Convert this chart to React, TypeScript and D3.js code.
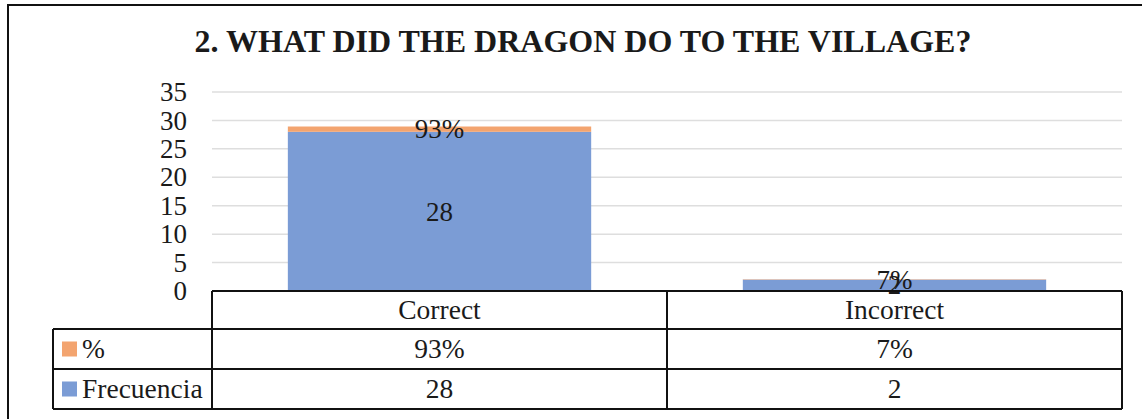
import React from "react";
import * as d3 from "d3";

const categories = ["Correct", "Incorrect"];
const frecuencia = [28, 2];
const porcentaje = [0.93, 0.07];
const pctLabels = ["93%", "7%"];
const yTicks = [0, 5, 10, 15, 20, 25, 30, 35];
const seriesNames = ["%", "Frecuencia"];
const title = "2. WHAT DID THE DRAGON DO TO THE VILLAGE?";

const W = 1142;
const H = 419;
const FONT = "Liberation Serif";
const BLUE = "#7b9cd5";
const ORANGE = "#f3a46f";

export default function App() {
  const plotLeft = 212;
  const plotRight = 1122;
  const y0 = 291;
  const y35 = 92;
  const x = d3.scaleBand<string>().domain(categories).range([plotLeft, plotRight]).paddingInner(0.3333).paddingOuter(0.1667);
  const y = d3.scaleLinear().domain([0, 35]).range([y0, y35]);

  const stackData = categories.map((c, i) => ({ cat: c, f: frecuencia[i], p: porcentaje[i] }));
  const stack = d3.stack<any>().keys(["f", "p"])(stackData);

  const rowTop = [291, 329, 369, 409];
  const tableLeft = 53;
  const band = (plotRight - plotLeft) / categories.length;
  const colEdges = categories.map((_, i) => plotLeft + i * band).concat([plotRight]);

  const txt = (size: number, bold = false) => ({ fontFamily: FONT, fontSize: size, fontWeight: bold ? "bold" : "normal" } as React.CSSProperties);

  return (
    <svg width={W} height={H} style={{ position: "absolute", left: 0, top: 0, background: "#fff" }}>
      <rect x={0} y={0} width={W} height={H} fill="#fff" />
      <path d={`M8,${H + 5} L8,5 L${W + 5},5`} fill="none" stroke="#111" strokeWidth={2} />
      <text x={583} y={52} textAnchor="middle" style={txt(32, true)} fill="#1a1a1a">{title}</text>
      {yTicks.filter((t) => t > 0).map((t) => (
        <line key={t} x1={plotLeft} x2={plotRight} y1={y(t)} y2={y(t)} stroke="#dedede" strokeWidth={1.5} />
      ))}
      {yTicks.map((t) => (
        <text key={t} x={187} y={y(t)} dy="0.34em" textAnchor="end" style={txt(27)} fill="#1a1a1a">{t}</text>
      ))}
      {stack.map((s, si) => (
        <g key={si} fill={si === 0 ? BLUE : ORANGE}>
          {s.map((d: any, i: number) => (
            <rect key={i} x={x(categories[i])} width={x.bandwidth()} y={y(d[1])} height={Math.max(0, y(d[0]) - y(d[1]))} />
          ))}
        </g>
      ))}
      {stack[0].map((d: any, i: number) => (
        <text key={"f" + i} x={(x(categories[i]) as number) + x.bandwidth() / 2} y={(y(d[0]) + y(d[1])) / 2} dy="0.34em" textAnchor="middle" style={txt(27)} fill="#1a1a1a">{frecuencia[i]}</text>
      ))}
      {stack[1].map((d: any, i: number) => (
        <text key={"p" + i} x={(x(categories[i]) as number) + x.bandwidth() / 2} y={(y(d[0]) + y(d[1])) / 2} dy="0.34em" textAnchor="middle" style={txt(27)} fill="#1a1a1a">{pctLabels[i]}</text>
      ))}
      <g stroke="#111" strokeWidth={2} fill="none">
        <line x1={plotLeft} x2={plotRight} y1={rowTop[0]} y2={rowTop[0]} />
        <line x1={tableLeft} x2={plotRight} y1={rowTop[1]} y2={rowTop[1]} />
        <line x1={tableLeft} x2={plotRight} y1={rowTop[2]} y2={rowTop[2]} />
        <line x1={tableLeft} x2={plotRight} y1={rowTop[3]} y2={rowTop[3]} />
        <line x1={tableLeft} x2={tableLeft} y1={rowTop[1]} y2={rowTop[3]} />
        {colEdges.map((cx, i) => (
          <line key={i} x1={cx} x2={cx} y1={rowTop[0]} y2={rowTop[3]} />
        ))}
      </g>
      {categories.map((c, i) => (
        <g key={c} fill="#1a1a1a" textAnchor="middle">
          <text x={colEdges[i] + band / 2} y={(rowTop[0] + rowTop[1]) / 2} dy="0.34em" style={txt(27.5)}>{c}</text>
          <text x={colEdges[i] + band / 2} y={(rowTop[1] + rowTop[2]) / 2} dy="0.34em" style={txt(27.5)}>{pctLabels[i]}</text>
          <text x={colEdges[i] + band / 2} y={(rowTop[2] + rowTop[3]) / 2} dy="0.34em" style={txt(27.5)}>{frecuencia[i]}</text>
        </g>
      ))}
      {seriesNames.map((n, i) => {
        const cy = (rowTop[i + 1] + rowTop[i + 2]) / 2;
        return (
          <g key={n}>
            <rect x={62} y={cy - 7.5} width={15} height={15} fill={i === 0 ? ORANGE : BLUE} />
            <text x={82} y={cy} dy="0.34em" style={txt(27.5)} fill="#1a1a1a">{n}</text>
          </g>
        );
      })}
    </svg>
  );
}
